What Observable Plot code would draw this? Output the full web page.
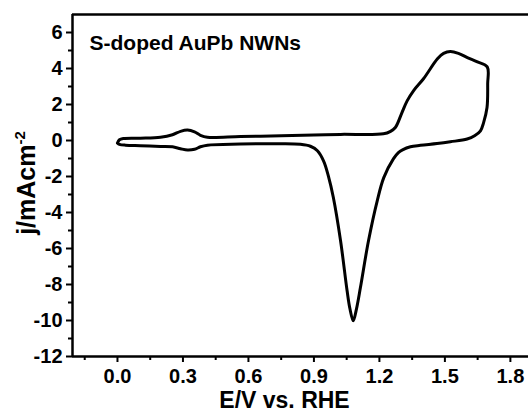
<!DOCTYPE html>
<html>
<head>
<meta charset="utf-8">
<script src="https://cdn.jsdelivr.net/npm/d3@7"></script>
<script src="https://cdn.jsdelivr.net/npm/@observablehq/plot@0.6"></script>
<style>
  html, body { margin: 0; padding: 0; background: #fff; }
  #chart { width: 528px; height: 412px; }
</style>
</head>
<body>
<div id="chart"></div>
<script>
// Cyclic voltammogram: potential (V vs RHE) and current density (mA cm^-2), in scan order
const potential = [
  0.000, 0.009, 0.027, 0.105, 0.197, 0.252, 0.289, 0.321, 0.353, 0.380, 0.412,
  0.563, 0.750, 0.900, 1.022, 1.218, 1.251, 1.273, 1.301, 1.327, 1.356, 1.402,
  1.466, 1.494, 1.525, 1.562, 1.603, 1.649, 1.694,
  1.696, 1.693, 1.677, 1.663, 1.636, 1.602, 1.525, 1.464, 1.388, 1.342, 1.306,
  1.287, 1.264, 1.220, 1.190, 1.150, 1.113, 1.095, 1.080, 1.065, 1.052, 1.022,
  0.989, 0.966, 0.944, 0.916, 0.884, 0.838, 0.747, 0.563, 0.412, 0.380, 0.353,
  0.321, 0.289, 0.252, 0.197, 0.105, 0.037, 0.009, 0.000
];
const current = [
  -0.14, 0.04, 0.11, 0.13, 0.18, 0.32, 0.51, 0.58, 0.48, 0.29, 0.18,
  0.22, 0.26, 0.30, 0.34, 0.37, 0.51, 0.72, 1.48, 2.20, 2.76, 3.43,
  4.54, 4.84, 4.94, 4.84, 4.61, 4.37, 4.09,
  3.15, 1.83, 0.98, 0.54, 0.26, 0.08, -0.07, -0.17, -0.27, -0.35, -0.52,
  -0.67, -1.02, -2.06, -3.35, -5.57, -8.17, -9.35, -10.02, -9.35, -8.35, -5.57,
  -3.17, -1.96, -1.13, -0.57, -0.32, -0.21, -0.18, -0.20, -0.26, -0.35, -0.49,
  -0.53, -0.46, -0.35, -0.33, -0.29, -0.26, -0.21, -0.14
];

const xMajor = [0.0, 0.3, 0.6, 0.9, 1.2, 1.5, 1.8];
const xMinor = [-0.15, 0.15, 0.45, 0.75, 1.05, 1.35, 1.65];
const yMajor = [-12, -10, -8, -6, -4, -2, 0, 2, 4, 6];
const yMinor = [-11, -9, -7, -5, -3, -1, 1, 3, 5];

const title = "S-doped AuPb NWNs";
const xLabel = "E/V vs. RHE";
const yLabelMain = "j/mAcm";
const yLabelSup = "-2";

const xDomain = [-0.206, 1.883];
const yDomain = [-12, 7];
const idx = d3.range(potential.length);

const plot = Plot.plot({
  width: 528,
  height: 412,
  marginLeft: 72,
  marginRight: 0,
  marginTop: 14,
  marginBottom: 56,
  x: { domain: xDomain },
  y: { domain: yDomain },
  style: {
    fontFamily: "'Liberation Sans', Arial, sans-serif",
    fontWeight: "bold",
    fontSize: "20px",
    color: "black",
    background: "white",
    overflow: "visible"
  },
  marks: [
    Plot.axisX(xMajor, { tickSize: 6, tickPadding: 6, strokeWidth: 2, tickFormat: d => d.toFixed(1), label: null, fontSize: 20 }),
    Plot.axisX(xMinor, { tickSize: 4, strokeWidth: 2, tickFormat: () => "", label: null }),
    Plot.axisY(yMajor, { tickSize: 6, tickPadding: 4, strokeWidth: 2, tickFormat: d => String(d).replace("\u2212", "-"), label: null, fontSize: 20 }),
    Plot.axisY(yMinor, { tickSize: 4, strokeWidth: 2, tickFormat: () => "", label: null }),
    Plot.ruleY([yDomain[0]], { stroke: "black", strokeWidth: 2.5 }),
    Plot.ruleY([yDomain[1]], { stroke: "black", strokeWidth: 2.5 }),
    Plot.ruleX([xDomain[0]], { stroke: "black", strokeWidth: 2.5 }),
    Plot.line(idx, {
      x: i => potential[i],
      y: i => current[i],
      curve: "catmull-rom",
      stroke: "black",
      strokeWidth: 3
    }),
    Plot.text([title], {
      frameAnchor: "top-left", dx: 17, dy: 35, lineAnchor: "bottom",
      textAnchor: "start", fontSize: 21, fontWeight: "bold"
    }),
    Plot.text([xLabel], {
      frameAnchor: "bottom", dx: -16, dy: 51, lineAnchor: "bottom",
      fontSize: 23, fontWeight: "bold"
    })
  ]
});

// y-axis title with superscript
const svg = d3.select(plot);
const yl = svg.append("text")
  .attr("transform", "translate(35,183) rotate(-90)")
  .attr("text-anchor", "middle")
  .attr("font-size", 25)
  .attr("font-weight", "bold")
  .attr("fill", "black");
yl.append("tspan").text(yLabelMain);
yl.append("tspan").attr("dy", "-0.65em").attr("font-size", 15).text(yLabelSup);

document.getElementById("chart").appendChild(plot);
</script>
</body>
</html>
